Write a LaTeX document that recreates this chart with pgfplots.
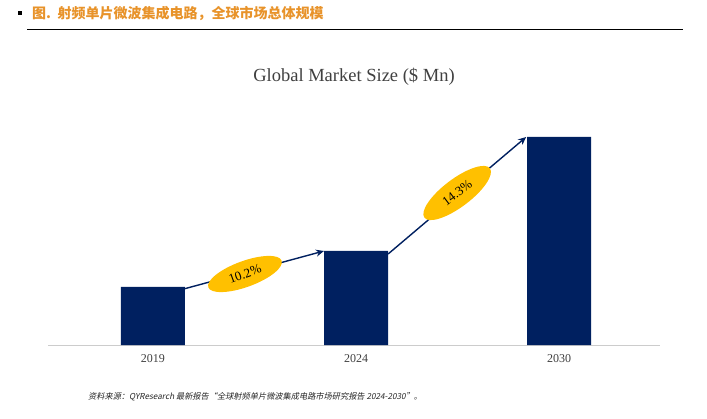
\documentclass[border=0pt]{standalone}
\usepackage{fontspec}
\usepackage{pgfplots}
\pgfplotsset{compat=1.18}
\usetikzlibrary{shapes.geometric, arrows.meta}
\setmainfont{Liberation Serif}
\newfontfamily\cjk{Noto Sans CJK SC}
\newfontfamily\cjksl[FakeSlant=0.2]{Noto Sans CJK SC}

\definecolor{navy}{HTML}{002060}
\definecolor{gold}{HTML}{FFC000}
\definecolor{titleorange}{HTML}{E8932A}
\definecolor{txtgray}{HTML}{404040}

\begin{document}
\begin{tikzpicture}
  \useasboundingbox[fill=white] (0,0) rectangle (707pt,418pt);

  % heading line at the top
  \fill[black] (18pt,403pt) rectangle (22pt,407pt);
  \node[anchor=west, inner sep=0, text=titleorange]
    at (32pt,405pt) {\cjk\bfseries\fontsize{14}{16}\selectfont 图.\ \ 射频单片微波集成电路，全球市场总体规模};
  \draw[black, line width=0.8pt] (27pt,389pt) -- (683pt,389pt);

  \node[text=txtgray] at (354pt,341pt) {\fontsize{18.5}{21}\selectfont Global Market Size (\$ Mn)};

  \begin{axis}[
      at={(48pt,73pt)}, anchor=south west,
      scale only axis, width=612pt, height=240pt,
      xmin=-0.517, xmax=2.497, ymin=0, ymax=240,
      axis x line*=bottom, axis y line=none,
      x axis line style={draw=black!20, line width=0.8pt, -},
      xtick={0,1,2}, xticklabels={2019,2024,2030},
      major tick length=0pt,
      xticklabel style={font=\fontsize{12}{14}\selectfont, text=txtgray, yshift=-6pt},
      clip=false
    ]
    \addplot[ybar, bar width=0.315, fill=navy, draw=none]
      coordinates {(0,58) (1,94) (2,208)};

    \draw[navy, line width=1.4pt, -{Stealth[length=8pt,width=7pt]}]
      (axis cs:0.133,55) -- (axis cs:0.842,94);
    \draw[navy, line width=1.4pt, -{Stealth[length=8pt,width=7pt]}]
      (axis cs:1.158,91) -- (axis cs:1.838,208);

    \node[ellipse, fill=gold, minimum width=78pt, minimum height=26pt,
          inner sep=0pt, rotate=20]
      at (axis cs:0.453,71) {\fontsize{13}{15}\selectfont 10.2\%};
    \node[ellipse, fill=gold, minimum width=82pt, minimum height=28pt,
          inner sep=0pt, rotate=37]
      at (axis cs:1.498,152) {\fontsize{13}{15}\selectfont 14.3\%};
  \end{axis}

  \node[anchor=west, inner sep=0, text=black!85]
    at (88pt,21pt) {\cjksl\fontsize{8.2}{10}\selectfont 资料来源：QYResearch 最新报告“全球射频单片微波集成电路市场研究报告 2024-2030”。};
\end{tikzpicture}
\end{document}
